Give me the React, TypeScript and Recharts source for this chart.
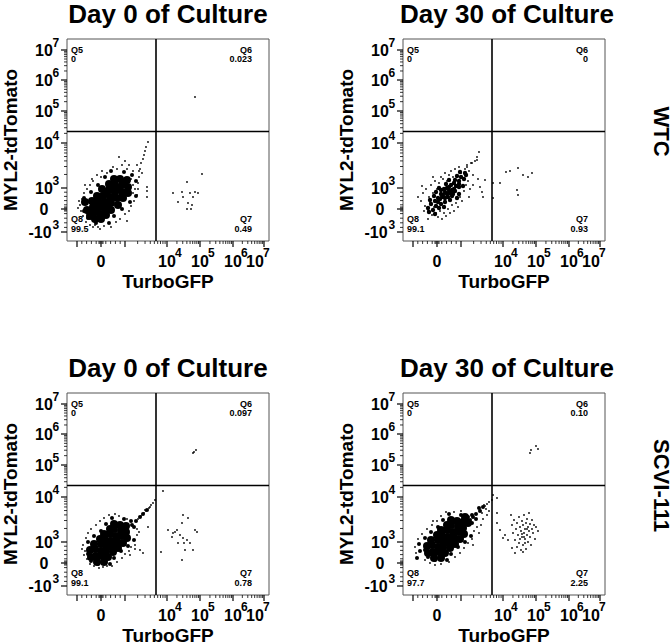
import { ScatterChart, Scatter, XAxis, YAxis, ReferenceLine, ReferenceArea } from 'recharts';

type Pt = [number, number];

// display units: pixels from the left / bottom edge of each 202 x 202 plot box
const BOX = 202;
const TOP = 39;
const AXIS_W = 67;
const X_GATE = 89;
const Y_GATE = 109.5;

// axis decades (display units) and their labels
const xTickValues = [10, 34, 58, 100, 133, 166, 197];
const xTickBase = ['', '0', '', '10', '10', '10', '10'];
const xTickExp = ['', '', '', '4', '5', '6', '7'];
const yTickValues = [9, 32, 53, 98, 130, 161, 191];
const yTickBase = ['-10', '0', '10', '10', '10', '10', '10'];
const yTickExp = ['3', '', '3', '4', '5', '6', '7'];

const quadrantNames = ['Q5', 'Q6', 'Q7', 'Q8'];
const panelTitles = ['Day 0 of Culture', 'Day 30 of Culture', 'Day 0 of Culture', 'Day 30 of Culture'];
const rowNames = ['WTC', 'SCVI-111'];
const wtcDay0Pct = ['0', '0.023', '0.49', '99.5'];
const wtcDay30Pct = ['0', '0', '0.93', '99.1'];
const scviDay0Pct = ['0', '0.097', '0.78', '99.1'];
const scviDay30Pct = ['0', '0.10', '2.25', '97.7'];

// ---- WTC, day 0
const wtcDay0Core: Pt[] = [
  [26, 27], [33, 34], [38, 39], [43, 44], [48, 49], [55, 56], [60, 61],
  [25, 40], [30, 45], [35, 52], [42, 57], [47, 62],
  [39, 26], [44, 31], [51, 36], [56, 43], [61, 48],
  [26, 34], [31, 39], [36, 45], [42, 51], [48, 56], [53, 62],
  [33, 27], [38, 32], [44, 38], [50, 43], [55, 49], [61, 54],
  [20, 31], [23, 25], [28, 22], [18, 39], [34, 22],
  [29, 31], [47, 44], [39, 49], [52, 52], [57, 58], [35, 38], [41, 35], [46, 53], [29, 37], [23, 29],
];
const wtcDay0Ring: Pt[] = [
  [17, 43], [24, 49], [31, 56], [38, 64], [44, 70],
  [42, 18], [47, 25], [55, 32], [63, 39], [69, 45],
  [21, 23], [17, 30], [29, 18], [65, 66], [57, 69], [69, 60],
];
const wtcDay0Cells: Pt[] = [
  [13, 36], [14, 30], [15, 42], [16, 25], [17, 48], [12, 40], [19, 19], [23, 16], [20, 52], [23, 56],
  [26, 60], [28, 16], [31, 14], [34, 64], [37, 15], [40, 68], [44, 14], [46, 74], [49, 19], [50, 72],
  [53, 22], [55, 76], [58, 27], [60, 72], [62, 30], [64, 35], [66, 70], [67, 40], [68, 52], [70, 46],
  [71, 58], [72, 64], [73, 72], [74, 78], [75, 68], [76, 82], [77, 86], [78, 90], [79, 94], [81, 99],
  [70, 76], [72, 70], [66, 56], [64, 62], [62, 76], [58, 80], [30, 66], [25, 62], [18, 56], [11, 33],
  [80, 44], [80, 50], [80, 54], [52, 84], [26, 14], [60, 20], [71, 52], [66, 48], [33, 12], [35, 70],
  [106, 48], [111, 39], [116, 44], [120, 59], [121, 38], [123, 48], [125, 36], [126, 44], [128, 49],
  [131, 48], [135, 67], [120, 32], [124, 32], [115, 49],
  [128, 144],
];

// ---- WTC, day 30
const wtcDay30Core: Pt[] = [
  [26, 29], [32, 27],
  [25, 33], [30, 31], [36, 33],
  [28, 37], [33, 35], [38, 37], [41, 34],
  [27, 41], [32, 40], [37, 42], [42, 39], [47, 41],
  [31, 45], [35, 43], [40, 46], [45, 44], [49, 45], [54, 43],
  [33, 49], [38, 47], [42, 49], [47, 48], [52, 50], [56, 47],
  [36, 53], [41, 52], [46, 54], [51, 52], [56, 54],
  [43, 57], [48, 56], [51, 58], [56, 57], [60, 55],
  [46, 61], [52, 61], [56, 60], [61, 62],
  [54, 65], [58, 64], [63, 66],
  [57, 69], [62, 68],
  [44, 47], [39, 44], [49, 51], [35, 39], [53, 55], [42, 43], [46, 50], [38, 51], [50, 47], [44, 53],
];
const wtcDay30Ring: Pt[] = [];
const wtcDay30Cells: Pt[] = [
  [15, 44], [18, 40], [20, 48], [22, 35], [23, 52], [25, 30], [26, 44], [27, 38], [28, 56], [29, 26],
  [30, 48], [31, 34], [32, 60], [33, 28], [34, 52], [35, 24], [36, 58], [37, 30], [38, 64], [39, 22],
  [40, 62], [41, 28], [42, 68], [43, 25], [44, 60], [45, 32], [46, 66], [47, 28], [48, 70], [49, 36],
  [50, 64], [51, 30], [52, 72], [53, 38], [54, 66], [55, 34], [56, 74], [57, 44], [58, 68], [59, 40],
  [60, 62], [61, 50], [62, 72], [63, 56], [64, 76], [65, 60], [66, 70], [67, 52], [68, 78], [70, 66],
  [72, 80], [74, 84], [76, 89], [64, 74], [69, 78], [74, 81], [21, 30], [19, 55], [25, 22], [30, 64],
  [77, 54], [79, 49], [80, 44], [82, 61], [75, 62], [66, 44], [70, 56],
  [90, 58], [90, 43], [97, 58], [103, 69], [107, 70], [114, 51], [115, 46], [115, 73], [120, 66],
  [125, 64], [129, 68],
];

// ---- SCVI-111, day 0
const scviDay0Core: Pt[] = [
  [29, 39], [34, 44], [39, 49], [44, 54], [49, 59], [54, 64], [59, 69],
  [27, 51], [33, 56], [37, 61], [43, 66], [47, 71],
  [41, 38], [46, 43], [51, 47], [56, 52], [60, 57],
  [28, 46], [34, 51], [38, 55], [43, 61], [47, 66], [53, 70],
  [35, 39], [39, 44], [45, 48], [50, 53], [54, 59], [59, 63],
  [23, 45], [24, 38], [30, 33], [37, 33],
];
const scviDay0Ring: Pt[] = [
  [21, 53], [27, 59], [34, 64], [39, 71], [45, 77],
  [43, 31], [47, 37], [54, 44], [61, 49], [67, 55],
  [24, 34], [21, 41], [31, 31], [64, 74], [57, 76], [67, 68],
  [65, 70], [69, 74], [73, 78], [76, 81], [80, 85],
];
const scviDay0Cells: Pt[] = [
  [71, 76], [74, 79], [77, 82], [79, 84], [82, 87], [84, 90], [86, 92], [88, 95], [78, 85], [83, 88],
  [16, 50], [18, 44], [19, 57], [20, 36], [21, 62], [23, 31], [24, 66], [27, 29], [29, 70], [32, 27],
  [33, 74], [36, 28], [37, 77], [40, 29], [42, 80], [45, 29], [48, 81], [50, 33], [55, 37], [58, 41],
  [62, 44], [64, 48], [68, 50], [70, 60], [72, 63], [68, 46], [73, 45], [76, 42], [81, 68], [63, 40],
  [15, 46], [26, 35], [52, 79], [60, 76], [17, 40], [70, 66],
  [94, 43], [101, 65], [105, 58], [106, 62], [110, 65], [111, 52], [113, 60], [115, 72], [116, 80],
  [116, 57], [117, 52], [118, 45], [120, 55], [121, 77], [123, 52], [126, 45], [128, 65], [130, 63],
  [115, 35], [108, 63], [96, 104],
  [126, 142], [127, 143], [129, 145],
];

// ---- SCVI-111, day 30
const scviDay30Core: Pt[] = [
  [30, 43], [35, 48], [40, 53], [45, 58], [50, 63], [55, 68], [60, 73],
  [28, 55], [34, 60], [38, 65], [44, 70], [48, 75],
  [42, 42], [47, 47], [52, 51], [57, 56], [61, 61],
  [29, 50], [35, 55], [39, 59], [44, 65], [48, 70], [54, 74],
  [36, 43], [40, 48], [46, 52], [51, 57], [55, 63], [60, 67],
  [24, 49], [25, 42], [31, 37], [38, 37], [65, 72], [62, 78],
];
const scviDay30Ring: Pt[] = [
  [22, 57], [28, 63], [35, 68], [40, 75], [46, 81],
  [44, 35], [48, 41], [55, 48], [62, 53], [68, 59],
  [25, 38], [22, 45], [32, 35], [65, 78], [58, 80], [69, 72],
  [67, 75], [70, 78], [73, 81], [77, 84], [80, 88], [69, 80], [73, 76], [76, 87],
  [17, 44], [16, 51], [14, 37],
];
const scviDay30Cells: Pt[] = [
  [82, 89], [84, 91], [86, 93], [89, 95], [83, 86], [79, 82], [81, 90],
  [13, 42], [15, 56], [19, 61], [22, 35], [24, 66], [27, 32], [29, 70], [32, 30], [34, 74], [38, 31],
  [38, 79], [43, 83], [46, 33], [51, 83], [52, 38], [57, 42], [61, 47], [65, 52], [69, 56], [71, 64],
  [74, 68], [70, 50], [76, 62], [78, 70], [80, 76], [84, 80], [86, 84], [58, 84], [30, 74], [12, 48],
  [94, 72], [97, 65], [100, 57], [105, 55], [109, 47], [94, 82], [102, 60], [108, 80], [112, 42],
  [109, 70], [110, 62], [111, 75], [112, 55], [113, 66], [114, 72], [114, 48], [115, 60], [116, 78],
  [116, 52], [117, 68], [118, 64], [118, 45], [119, 58], [119, 74], [120, 70], [120, 50], [121, 62],
  [121, 80], [122, 56], [122, 66], [123, 72], [123, 46], [124, 60], [124, 76], [125, 53], [125, 68],
  [126, 64], [126, 82], [127, 58], [127, 71], [128, 50], [129, 66], [129, 75], [130, 62], [131, 70],
  [132, 56], [133, 68], [135, 64], [120, 43], [117, 56], [122, 52], [124, 66], [119, 61], [121, 58],
  [90, 100], [94, 97],
  [127, 142], [128, 145], [133, 149], [135, 146],
];

const FONT = '"Liberation Sans", Arial, Helvetica, sans-serif';

// minor ticks: log steps inside each decade, linear steps around zero
function minorTicks(neg: number, zero: number, decades: number[]) {
  const out: number[] = [];
  for (let k = 1; k < 5; k++) out.push(neg + ((zero - neg) * k) / 5);
  for (let k = 1; k < 5; k++) out.push(zero + ((decades[0] - zero) * k) / 5);
  out.push(zero - 2, zero - 1, zero + 1, zero + 2);
  for (let i = 0; i < decades.length - 1; i++) {
    for (let k = 2; k < 10; k++) out.push(decades[i] + (decades[i + 1] - decades[i]) * Math.log10(k));
  }
  return out;
}
const xMinor = minorTicks(10, 34, [58, 100, 133, 166, 197]);
const yMinor = minorTicks(9, 32, [53, 98, 130, 161, 191]);

const toRows = (pts: Pt[]) => pts.map(([x, y]) => ({ x, y }));
const dot = (r: number) => (p: any) => <circle cx={p.cx} cy={p.cy} r={r} fill="#000" />;

function XTick(props: any) {
  const { x, payload } = props;
  const axisY = TOP + BOX;
  const i = xTickValues.indexOf(payload.value);
  if (i < 0) return <line x1={x} x2={x} y1={axisY} y2={axisY + 3} stroke="#000" strokeWidth={0.8} />;
  const lx = i === xTickValues.length - 1 ? x - 9 : x;
  return (
    <g>
      <line x1={x} x2={x} y1={axisY} y2={axisY + 6} stroke="#000" strokeWidth={1.2} />
      <text x={lx} y={axisY + 26} textAnchor="middle" fontFamily={FONT} fontWeight="bold" fontSize={16}>
        {xTickBase[i]}
      </text>
      <text x={lx + 8} y={axisY + 16} textAnchor="start" fontFamily={FONT} fontWeight="bold" fontSize={12}>
        {xTickExp[i]}
      </text>
    </g>
  );
}

function YTick(props: any) {
  const { y, payload } = props;
  const i = yTickValues.indexOf(payload.value);
  if (i < 0) return <line x1={AXIS_W - 3} x2={AXIS_W} y1={y} y2={y} stroke="#000" strokeWidth={0.8} />;
  const neg = yTickBase[i] === '-10';
  const cx = AXIS_W - 23;
  return (
    <g>
      <line x1={AXIS_W - 6} x2={AXIS_W} y1={y} y2={y} stroke="#000" strokeWidth={1.2} />
      <text x={neg ? cx - 4 : cx} y={y + 6} textAnchor="middle" fontFamily={FONT} fontWeight="bold" fontSize={16}>
        {yTickBase[i]}
      </text>
      <text x={cx + 8.5} y={y - 3} textAnchor="start" fontFamily={FONT} fontWeight="bold" fontSize={12}>
        {yTickExp[i]}
      </text>
    </g>
  );
}

type PanelProps = { left: number; top: number; core: Pt[]; coreR: number; ring: Pt[]; cells: Pt[] };

function FlowPanel({ left, top, core, coreR, ring, cells }: PanelProps) {
  return (
    <div style={{ position: 'absolute', left, top }}>
      <ScatterChart width={336} height={300} margin={{ top: TOP, right: 336 - AXIS_W - BOX, bottom: 0, left: 0 }}>
        <XAxis
          type="number"
          dataKey="x"
          domain={[0, BOX]}
          ticks={[...xTickValues, ...xMinor]}
          interval={0}
          tickLine={false}
          axisLine={false}
          tick={(p: any) => <XTick {...p} />}
          height={300 - TOP - BOX}
        />
        <YAxis
          type="number"
          dataKey="y"
          domain={[0, BOX]}
          ticks={[...yTickValues, ...yMinor]}
          interval={0}
          tickLine={false}
          axisLine={false}
          tick={(p: any) => <YTick {...p} />}
          width={AXIS_W}
        />
        <ReferenceArea x1={0} x2={BOX} y1={0} y2={BOX} fill="none" stroke="#555" strokeWidth={1} />
        <ReferenceLine x={X_GATE} stroke="#000" strokeWidth={1.6} />
        <ReferenceLine y={Y_GATE} stroke="#000" strokeWidth={1.6} />
        <Scatter data={toRows(cells)} isAnimationActive={false} shape={dot(0.9)} />
        <Scatter data={toRows(ring)} isAnimationActive={false} shape={dot(2)} />
        <Scatter data={toRows(core)} isAnimationActive={false} shape={dot(coreR)} />
      </ScatterChart>
    </div>
  );
}

function QuadrantText({ bx, by, pct }: { bx: number; by: number; pct: string[] }) {
  const s = { fontFamily: FONT, fontWeight: 'bold' as const, fontSize: 9 };
  return (
    <g>
      <text x={bx + 4} y={by + 14} {...s}>{quadrantNames[0]}</text>
      <text x={bx + 4} y={by + 23} {...s}>{pct[0]}</text>
      <text x={bx + 185} y={by + 14} textAnchor="end" {...s}>{quadrantNames[1]}</text>
      <text x={bx + 185} y={by + 23} textAnchor="end" {...s}>{pct[1]}</text>
      <text x={bx + 185} y={by + BOX - 19} textAnchor="end" {...s}>{quadrantNames[2]}</text>
      <text x={bx + 185} y={by + BOX - 9} textAnchor="end" {...s}>{pct[2]}</text>
      <text x={bx + 4} y={by + BOX - 19} {...s}>{quadrantNames[3]}</text>
      <text x={bx + 4} y={by + BOX - 9} {...s}>{pct[3]}</text>
    </g>
  );
}

export default function App() {
  const panels = [
    { left: 0, top: 0, core: wtcDay0Core, coreR: 4, ring: wtcDay0Ring, cells: wtcDay0Cells, pct: wtcDay0Pct },
    { left: 336, top: 0, core: wtcDay30Core, coreR: 2.2, ring: wtcDay30Ring, cells: wtcDay30Cells, pct: wtcDay30Pct },
    { left: 0, top: 354, core: scviDay0Core, coreR: 4, ring: scviDay0Ring, cells: scviDay0Cells, pct: scviDay0Pct },
    { left: 336, top: 354, core: scviDay30Core, coreR: 4, ring: scviDay30Ring, cells: scviDay30Cells, pct: scviDay30Pct },
  ];
  const bold = { fontFamily: FONT, fontWeight: 'bold' as const };
  return (
    <div style={{ position: 'absolute', left: 0, top: 0, width: 672, height: 643, background: '#fff', overflow: 'hidden' }}>
      {panels.map((p, i) => (
        <FlowPanel key={i} left={p.left} top={p.top} core={p.core} coreR={p.coreR} ring={p.ring} cells={p.cells} />
      ))}
      <svg width={672} height={643} style={{ position: 'absolute', left: 0, top: 0, pointerEvents: 'none' }}>
        {panels.map((p, i) => {
          const bx = p.left + AXIS_W;
          const by = p.top + TOP;
          const cx = bx + BOX / 2;
          return (
            <g key={i}>
              <text x={cx + (i % 2) * 3} y={p.top + 23} textAnchor="middle" fontSize={26} {...bold}>{panelTitles[i]}</text>
              <text x={cx} y={by + BOX + 47} textAnchor="middle" fontSize={19} {...bold}>TurboGFP</text>
              <text
                transform={`translate(${p.left + 10}, ${by + BOX / 2}) rotate(-90)`}
                textAnchor="middle"
                dominantBaseline="central"
                fontSize={19}
                {...bold}
              >
                MYL2-tdTomato
              </text>
              <QuadrantText bx={bx} by={by} pct={p.pct} />
            </g>
          );
        })}
        {rowNames.map((r, i) => (
          <text
            key={r}
            transform={`translate(661, ${TOP + BOX - Y_GATE + i * 354}) rotate(90)`}
            textAnchor="middle"
            dominantBaseline="central"
            fontSize={22}
            {...bold}
          >
            {r}
          </text>
        ))}
      </svg>
    </div>
  );
}
